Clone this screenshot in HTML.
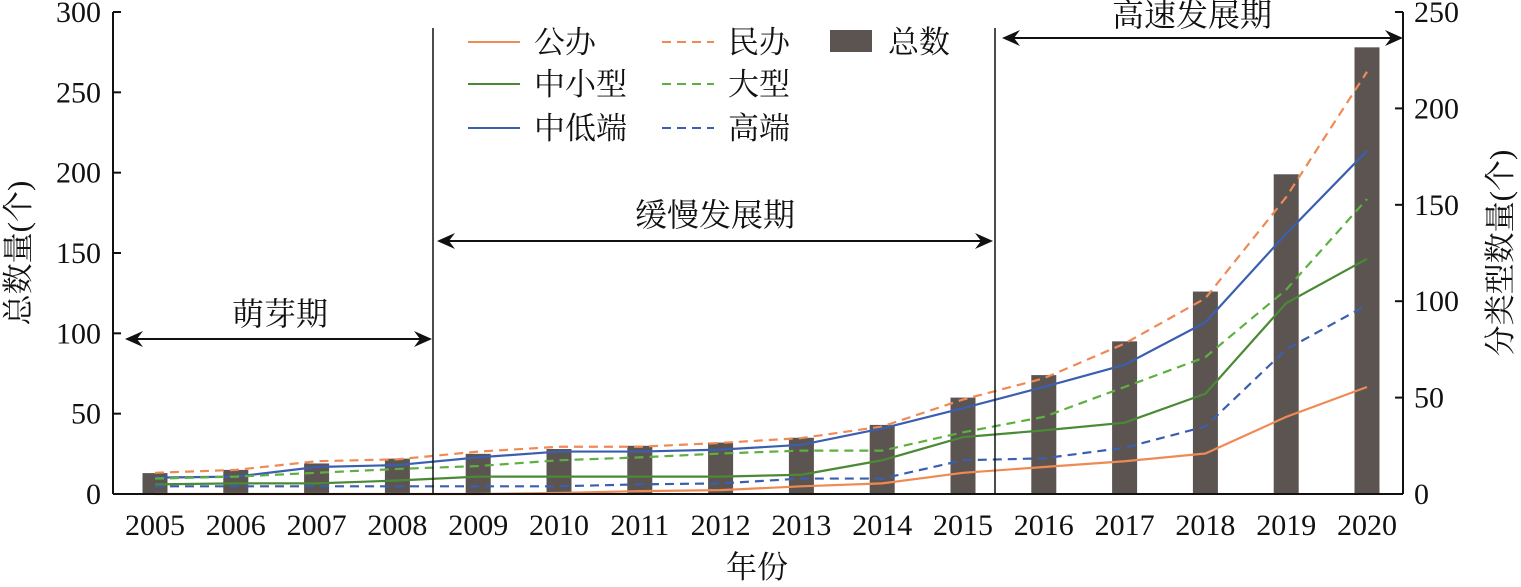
<!DOCTYPE html>
<html><head><meta charset="utf-8"><style>
body{margin:0;background:#fff}
svg text{font-family:"Liberation Serif","Noto Serif CJK SC",serif;fill:#111}
</style></head><body>
<svg id="c" width="1521" height="582" xmlns="http://www.w3.org/2000/svg"></svg>
<script>
const years=[2005,2006,2007,2008,2009,2010,2011,2012,2013,2014,2015,2016,2017,2018,2019,2020];
const totals=[13,15,19,22,25,28,30,32,35,43,60,74,95,126,199,278];
const minban=[11,12.5,17,18,22,24.5,24.5,26.5,29,35,49,60,78,101.5,154,219];
const zhongdi=[8.5,9,14,15,19,22,22,23,25.5,34,44.5,55.5,67,89,135,178];
const daxing=[8,9,11,13,14.5,17.5,19,21,22.5,22.5,32,40,55.5,71,106,153];
const zhongxiao=[5,5.5,5.5,7,9,9,9,9,10,17.5,29.5,33,37,52,99,122];
const gaoduan=[4,4,4,4,4,4,5,5.5,8,8,17.5,18.5,24,35,75,98];
const gongban=[0,0,0,0,0,0.5,1.5,2,4,5.5,11,14,17,21,40,55.5];
const leftTicks=[0,50,100,150,200,250,300];
const rightTicks=[0,50,100,150,200,250];
const NS="http://www.w3.org/2000/svg";
const svg=document.getElementById('c');
const X0=113,X1=1403,Y0=494,Y1=12;
const xs=i=>155+i*(1367-155)/(years.length-1);
const yl=v=>Y0-v*(Y0-Y1)/300;
const yr=v=>Y0-v*(Y0-Y1)/250;
function el(t,a,txt){const e=document.createElementNS(NS,t);for(const k in a)e.setAttribute(k,a[k]);if(txt!==undefined)e.textContent=txt;svg.appendChild(e);return e;}
totals.forEach((v,i)=>{const b=el('rect',{x:xs(i)-12.5,y:yl(v),width:25,height:Y0-yl(v),fill:'#5b5451'});

});
const series=[[minban,'#f08a55',true,'line-minban'],[zhongdi,'#3b5fb0',false,'line-zhongdiduan'],[daxing,'#5cb040',true,'line-daxing'],[zhongxiao,'#4a8a35',false,'line-zhongxiaoxing'],[gaoduan,'#3b5fb0',true,'line-gaoduan'],[gongban,'#f08a55',false,'line-gongban']];
series.forEach(([d,c,dash,n])=>{const p=el('polyline',{points:d.map((v,i)=>xs(i)+','+yr(v)).join(' '),fill:'none',stroke:c,'stroke-width':2.2,'stroke-dasharray':dash?'9,6':'none'});

});
el('line',{x1:X0,y1:Y1,x2:X0,y2:Y0,stroke:'#111','stroke-width':2});
el('line',{x1:X1,y1:Y1,x2:X1,y2:Y0,stroke:'#111','stroke-width':2});
el('line',{x1:X0,y1:Y0,x2:X1,y2:Y0,stroke:'#111','stroke-width':2});
leftTicks.forEach(v=>{el('line',{x1:X0,y1:yl(v),x2:X0+8,y2:yl(v),stroke:'#111','stroke-width':2});
const t=el('text',{x:101,y:yl(v)+10,'text-anchor':'end','font-size':30},v);

});
rightTicks.forEach(v=>{el('line',{x1:X1-8,y1:yr(v),x2:X1,y2:yr(v),stroke:'#111','stroke-width':2});
const t=el('text',{x:1414,y:yr(v)+10,'font-size':30},v);

});
years.forEach((y,i)=>{const t=el('text',{x:xs(i),y:535,'text-anchor':'middle','font-size':30},y);

});
let t=el('text',{x:757,y:578,'text-anchor':'middle','font-size':31},'年份');

t=el('text',{x:0,y:0,'text-anchor':'middle','font-size':31,transform:'translate(29,253) rotate(-90)'},'总数量(个)');

t=el('text',{x:0,y:0,'text-anchor':'middle','font-size':31,transform:'translate(1511,253) rotate(-90)'},'分类型数量(个)');

el('line',{x1:433,y1:28,x2:433,y2:Y0,stroke:'#111','stroke-width':1.5});
el('line',{x1:995,y1:28,x2:995,y2:Y0,stroke:'#111','stroke-width':1.5});
function arrow(x1,x2,y){el('line',{x1:x1+8,y1:y,x2:x2-8,y2:y,stroke:'#111','stroke-width':2});
el('polygon',{points:`${x1},${y} ${x1+18},${y-8} ${x1+12},${y} ${x1+18},${y+8}`,fill:'#111'});
el('polygon',{points:`${x2},${y} ${x2-18},${y-8} ${x2-12},${y} ${x2-18},${y+8}`,fill:'#111'});}
arrow(125,432,339);arrow(437,993,241);arrow(1002,1403,38);
t=el('text',{x:280,y:325,'text-anchor':'middle','font-size':32},'萌芽期');
t=el('text',{x:715,y:226,'text-anchor':'middle','font-size':32},'缓慢发展期');
t=el('text',{x:1192,y:26,'text-anchor':'middle','font-size':32},'高速发展期');
const leg=[['公办','#f08a55',false,468,42],['民办','#f08a55',true,662,42],['中小型','#4a8a35',false,468,84],['大型','#5cb040',true,662,84],['中低端','#3b5fb0',false,468,128],['高端','#3b5fb0',true,662,128]];
leg.forEach(([n,c,d,x,y])=>{el('line',{x1:x,y1:y,x2:x+52,y2:y,stroke:c,'stroke-width':2,'stroke-dasharray':d?'9,6':'none'});
const lt=el('text',{x:x+66,y:y+11,'font-size':31},n);

});
el('rect',{x:830,y:30,width:42,height:22,fill:'#5b5451'});
t=el('text',{x:888,y:53,'font-size':31},'总数');
</script>
</body></html>
